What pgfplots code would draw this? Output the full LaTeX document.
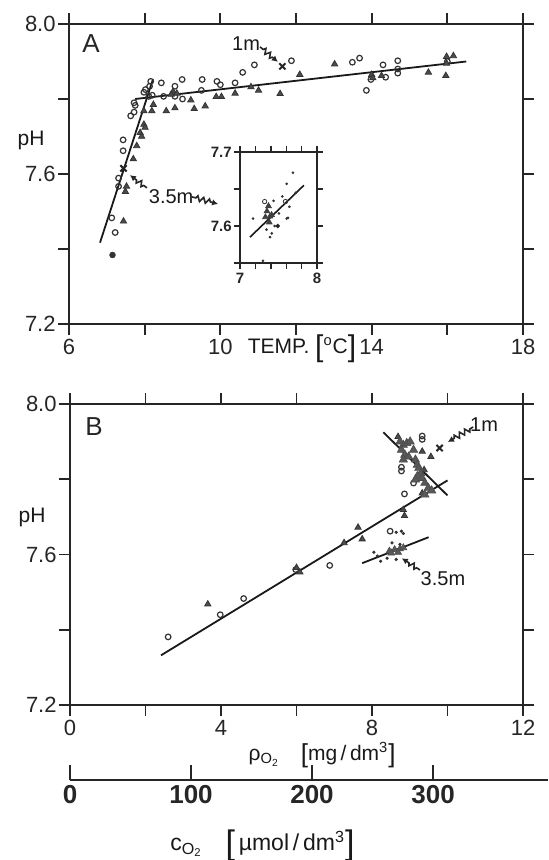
\documentclass[border=0pt]{standalone}
\usepackage{fontspec}
\setmainfont{Liberation Sans}
\usepackage{pgfplots}
\pgfplotsset{compat=1.18}
\usetikzlibrary{arrows.meta,decorations.pathmorphing}

\pgfplotsset{
  frm/.style={
    scale only axis, clip=false,
    axis line style={line width=0.9pt, black!85},
    every tick/.style={line width=0.9pt, black!85},
    tick align=outside, major tick length=5.5pt,
    /pgf/number format/assume math mode=true,
    tick label style={font=\fontsize{11}{13}\selectfont, black!85},
    yticklabel style={inner sep=1pt},
    xticklabel style={inner sep=2pt},
  },
  circ/.style={only marks, mark=o, mark size=1.4pt, black!80, mark options={line width=0.6pt}},
  tri/.style={only marks, mark=triangle*, mark size=1.8pt, black!80, mark options={fill=black!70, line width=0.4pt}},
  blob/.style={only marks, mark=triangle*, mark size=2.4pt, black!70, mark options={fill=black!65, line width=0.3pt}},
  dot/.style={only marks, mark=*, mark size=0.45pt, black!80},
  xm/.style={only marks, mark=x, mark size=2.2pt, black!85, mark options={line width=1pt}},
  fit/.style={no marks, line width=0.9pt, black!90},
}
\tikzset{
  zz/.style={line width=0.8pt, black!85, -{Latex[length=3pt,width=3.2pt]},
    decorate, decoration={zigzag, segment length=3pt, amplitude=1.3pt, pre length=2pt, post length=3pt}},
  lab/.style={font=\fontsize{10}{12}\selectfont, black!90},
}

\begin{document}
\begin{tikzpicture}
\path[use as bounding box] (0,0) rectangle (274pt,-430pt);

% ---------------- Panel A ----------------
\begin{axis}[frm, at={(34.5pt,-162pt)}, anchor=south west, width=227pt, height=150pt,
  xmin=6, xmax=18, ymin=7.2, ymax=8.0,
  xtick={6,8,10,12,14,16,18}, xticklabels={6,,10,,14,,18},
  ytick={7.2,7.4,7.6,7.8,8.0}, yticklabels={7.2,,7.6,,8.0}]
\addplot[fit] coordinates {(6.82,7.417) (8.22,7.853)};
\addplot[fit] coordinates {(7.75,7.800) (16.5,7.900)};
\addplot[circ] coordinates {
(7.13,7.483) (7.22,7.444) (7.31,7.567) (7.43,7.662) (7.43,7.691) (7.31,7.589)
(7.63,7.755) (7.72,7.765) (7.75,7.783) (7.72,7.790) (7.98,7.818) (8.02,7.825)
(8.11,7.807) (8.20,7.810) (8.16,7.847) (8.13,7.834) (8.44,7.843) (8.50,7.807)
(8.80,7.834) (8.80,7.807) (8.99,7.852) (9.00,7.800) (9.52,7.852) (9.50,7.823)
(9.91,7.847) (10.00,7.838) (10.39,7.843) (10.59,7.871) (10.90,7.891) (11.88,7.902)
(13.49,7.898) (13.68,7.909) (13.86,7.823) (13.98,7.852) (14.30,7.891) (14.37,7.858)
(14.69,7.902) (14.69,7.869) (14.69,7.880) (16.00,7.900)};
\addplot[only marks, mark=*, mark size=1.4pt, black!80] coordinates {(7.15,7.384)};
\addplot[tri] coordinates {
(7.44,7.474) (7.49,7.553) (7.52,7.567) (7.70,7.640) (7.79,7.675) (7.88,7.710)
(7.92,7.700) (7.98,7.732) (8.01,7.724) (7.98,7.768) (8.19,7.768) (8.23,7.785)
(8.57,7.768) (8.80,7.776) (9.22,7.797) (9.31,7.774) (9.60,7.781) (9.89,7.806)
(10.03,7.806) (10.39,7.815) (10.81,7.832) (11.01,7.823) (11.58,7.814) (12.10,7.865)
(13.02,7.893) (14.00,7.865) (14.03,7.856) (14.26,7.862) (15.50,7.871) (15.98,7.913)
(16.16,7.915) (15.96,7.862) (15.98,7.895) (8.75,7.820) (8.85,7.815) (8.70,7.812)};
\addplot[xm] coordinates {(11.64,7.887) (7.44,7.615)};
\node[font=\fontsize{13}{14}\selectfont, black!85] at (axis cs:6.58,7.949) {A};
\node[lab] at (axis cs:10.68,7.947) {1m};
\node[lab] at (axis cs:8.70,7.541) {3.5m};
\draw[zz] (axis cs:11.05,7.939) -- (axis cs:11.52,7.899);
\draw[zz] (axis cs:8.06,7.563) -- (axis cs:7.61,7.597);
\draw[zz] (axis cs:9.25,7.539) -- (axis cs:9.94,7.520);
\node[font=\fontsize{10.5}{12}\selectfont, black!90] at (rel axis cs:0,0.613) [xshift=-19pt] {pH};
\node[font=\fontsize{10.5}{12}\selectfont, black!90, anchor=center, inner sep=0pt] at (axis cs:12.16,7.2) [yshift=-12.5pt]
  {TEMP.\ \raisebox{-1.5pt}{\fontsize{15}{15}\selectfont[}\textsuperscript{o}C\raisebox{-1.5pt}{\fontsize{15}{15}\selectfont]}};
\end{axis}

% ---------------- Inset ----------------
\begin{axis}[frm, at={(120pt,-131.5pt)}, anchor=south west, width=38.5pt, height=55.5pt,
  axis line style={line width=0.7pt, black!85}, every tick/.style={line width=0.7pt, black!85},
  major tick length=3pt,
  tick label style={font=\fontsize{7.5}{8}\selectfont\bfseries, black!85},
  xmin=7, xmax=8, ymin=7.55, ymax=7.7,
  xtick={7,7.2,7.4,7.6,7.8,8}, xticklabels={7,,,,,8},
  ytick={7.55,7.6,7.65,7.7}, yticklabels={,7.6,,7.7}, xticklabel style={inner sep=2pt}]
\addplot[fit, line width=0.8pt] coordinates {(7.13,7.585) (7.83,7.655)};
\addplot[dot] coordinates {
(7.688,7.672) (7.606,7.657) (7.725,7.645) (7.642,7.626) (7.606,7.610) (7.436,7.634)
(7.413,7.590) (7.39,7.585) (7.344,7.595) (7.298,7.553) (7.17,7.61) (7.505,7.617)
(7.623,7.611) (7.45,7.60) (7.55,7.64)};
\addplot[only marks, mark=o, mark size=1.1pt, black!80] coordinates {(7.32,7.633) (7.59,7.633)};
\addplot[only marks, mark=triangle*, mark size=1.6pt, black!75] coordinates {
(7.37,7.627) (7.39,7.613) (7.35,7.620) (7.41,7.615) (7.38,7.605) (7.33,7.612)};
\addplot[only marks, mark=*, mark size=0.9pt, black!85] coordinates {(7.49,7.60)};
\end{axis}

% ---------------- Panel B ----------------
\begin{axis}[frm, at={(35pt,-352.5pt)}, anchor=south west, width=226.5pt, height=150.5pt,
  xmin=0, xmax=12, ymin=7.2, ymax=8.0,
  xtick={0,2,4,6,8,10,12}, xticklabels={0,,4,,8,,12},
  ytick={7.2,7.4,7.6,7.8,8.0}, yticklabels={7.2,,7.6,,8.0}]
\addplot[fit] coordinates {(2.41,7.332) (10.0,7.797)};
\addplot[fit] coordinates {(8.30,7.925) (10.0,7.757)};
\addplot[fit] coordinates {(7.74,7.577) (9.50,7.646)};
\addplot[circ] coordinates {
(3.98,7.440) (4.60,7.483) (5.98,7.560) (6.88,7.571) (8.48,7.662) (8.86,7.761)
(8.78,7.822) (8.78,7.832) (9.33,7.906) (9.33,7.915) (9.10,7.790)};
\addplot[only marks, mark=o, mark size=1.4pt, black!80, mark options={fill=black!40, line width=0.6pt}] coordinates {(2.60,7.381)};
\addplot[tri] coordinates {
(3.65,7.468) (6.09,7.553) (6.00,7.565) (7.26,7.631) (7.63,7.672) (7.74,7.641)
(8.83,7.719) (8.86,7.703) (9.33,7.874) (9.56,7.860) (8.69,7.913) (9.33,7.763) (9.38,7.825)};
\addplot[blob] coordinates {
(8.74,7.900) (8.83,7.891) (8.92,7.896) (9.01,7.900) (8.78,7.878) (8.87,7.865)
(8.83,7.852) (8.97,7.860) (9.10,7.878) (9.15,7.852) (9.20,7.838) (9.24,7.830)
(9.29,7.816) (9.20,7.808) (9.15,7.799) (9.33,7.803) (9.40,7.790) (9.49,7.777)
(9.58,7.770) (9.40,7.759)};
\addplot[blob, mark size=2pt] coordinates {
(8.46,7.609) (8.60,7.613) (8.74,7.615) (8.83,7.618) (8.51,7.604) (8.69,7.606)};
\addplot[dot, mark size=0.6pt] coordinates {
(8.05,7.606) (8.14,7.596) (8.23,7.582) (8.64,7.587) (8.74,7.627) (8.78,7.662)
(8.83,7.656) (8.64,7.659) (8.53,7.631) (8.40,7.590)};
\addplot[xm] coordinates {(9.79,7.883)};
\node[font=\fontsize{13}{14}\selectfont, black!85] at (axis cs:0.64,7.939) {B};
\node[lab] at (axis cs:10.97,7.944) {1m};
\node[lab] at (axis cs:9.88,7.537) {3.5m};
\draw[zz] (axis cs:10.68,7.939) -- (axis cs:10.01,7.899);
\draw[zz] (axis cs:9.27,7.559) -- (axis cs:8.79,7.590);
\node[font=\fontsize{10.5}{12}\selectfont, black!90] at (rel axis cs:0,0.622) [xshift=-19pt] {pH};
\node[font=\fontsize{10.5}{12}\selectfont, black!90, inner sep=0pt] at (axis cs:6.68,7.2) [yshift=-25pt]
  {ρ\textsubscript{O\textsubscript{2}}\quad\raisebox{-1pt}{\fontsize{13}{13}\selectfont[}mg\,/\,dm\textsuperscript{3}\raisebox{-1pt}{\fontsize{13}{13}\selectfont]}};
\end{axis}

% ---------------- c_O2 scale ----------------
\begin{axis}[scale only axis, clip=false, at={(35pt,-390pt)}, anchor=south west,
  width=239pt, height=10pt, xmin=0, xmax=395, ymin=0, ymax=1,
  axis x line*=bottom, axis y line=none,
  axis line style={line width=0.9pt, black!85},
  every tick/.style={line width=0.9pt, black!85},
  tick align=inside, major tick length=7.5pt,
  xtick={0,100,200,300}, xticklabels={0,100,200,300},
  xticklabel style={font=\fontsize{13}{15}\selectfont\bfseries, black!85, inner sep=2.5pt}]
\node[font=\fontsize{11.5}{13}\selectfont, black!90] at (axis cs:159,0) [yshift=-33pt]
  {c\textsubscript{O\textsubscript{2}}\quad\raisebox{-2pt}{\fontsize{17}{17}\selectfont[}\,µmol\,/\,dm\textsuperscript{3}\raisebox{-2pt}{\fontsize{17}{17}\selectfont]}};
\end{axis}
\end{tikzpicture}
\end{document}
